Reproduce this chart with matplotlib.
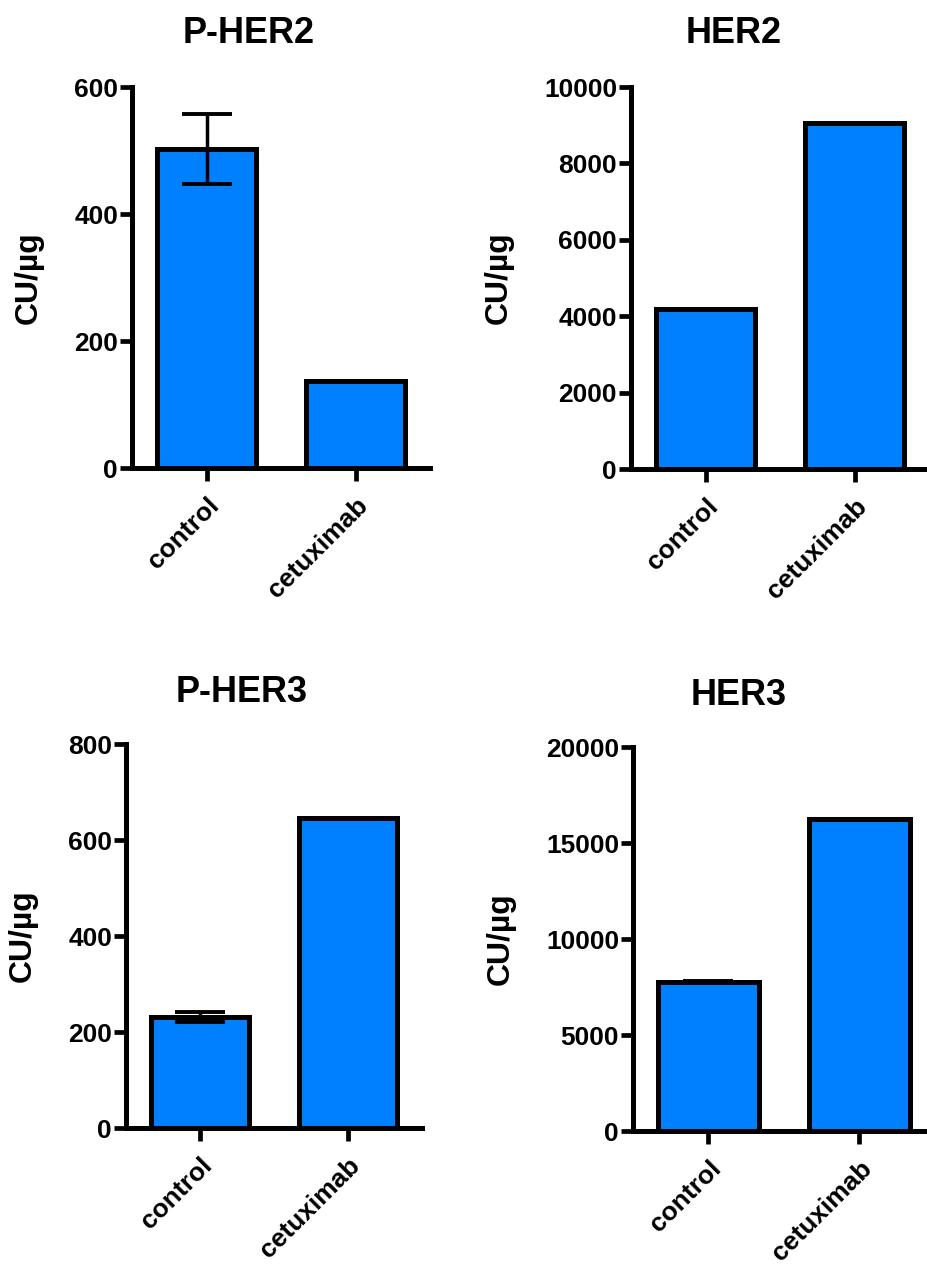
import matplotlib
matplotlib.use("Agg")
import matplotlib.pyplot as plt
import matplotlib.transforms as mtransforms

plt.rcParams['font.family'] = ['Liberation Sans', 'DejaVu Sans']
plt.rcParams['font.weight'] = 'bold'

groups = ['control', 'cetuximab']

titles = ['P-HER2', 'HER2', 'P-HER3', 'HER3']
pher2 = [502, 137]
pher2_err = [55, 0]
her2 = [4190, 9060]
her2_err = [0, 0]
pher3 = [231, 646]
pher3_err = [11, 0]
her3 = [7760, 16250]
her3_err = [60, 0]

yticks = [[0, 200, 400, 600],
          [0, 2000, 4000, 6000, 8000, 10000],
          [0, 200, 400, 600, 800],
          [0, 5000, 10000, 15000, 20000]]

values = [pher2, her2, pher3, her3]
errors = [pher2_err, her2_err, pher3_err, her3_err]

# axes rectangles in figure fractions (left, bottom, width, height)
rects = [[0.1424, 0.6303, 0.3215, 0.3009],
         [0.6807, 0.6295, 0.3215, 0.3017],
         [0.1359, 0.1090, 0.3193, 0.3033],
         [0.6828, 0.1066, 0.3258, 0.3033]]
title_x = [0.393, 0.346, 0.392, 0.350]
title_pad = [32, 32, 30, 30]

blue = '#0080ff'
fig = plt.figure(figsize=(9.27, 12.66), dpi=100)

for i in range(4):
    ax = fig.add_axes(rects[i])
    xs = list(range(len(groups)))
    ax.bar(xs, values[i], width=0.665, color=blue, edgecolor='black', linewidth=3.6, zorder=2)
    for x, v, e in zip(xs, values[i], errors[i]):
        if e > 0:
            ax.errorbar(x, v, yerr=e, fmt='none', ecolor='black', elinewidth=2.5,
                        capsize=18, capthick=2.8, zorder=3)
    ax.set_xlim(-0.5, 1.5)
    ax.set_ylim(0, yticks[i][-1])
    ax.set_yticks(yticks[i])
    ax.set_xticks(xs)
    ax.set_xticklabels(groups, rotation=45, ha='right', va='top', rotation_mode='anchor')
    shift = mtransforms.ScaledTranslation(3 / 100, 0, fig.dpi_scale_trans)
    for lab in ax.get_xticklabels():
        lab.set_transform(lab.get_transform() + shift)
    ax.spines['top'].set_visible(False)
    ax.spines['right'].set_visible(False)
    ax.spines['left'].set_linewidth(3.6)
    ax.spines['bottom'].set_linewidth(3.6)
    ax.tick_params(axis='both', width=3.4, length=9, labelsize=19)
    ax.tick_params(axis='y', pad=1)
    ax.tick_params(axis='x', pad=9)
    for lab in ax.get_xticklabels() + ax.get_yticklabels():
        lab.set_fontweight('bold')
    ax.set_title(titles[i], fontsize=26, fontweight='bold', x=title_x[i], pad=title_pad[i])
    ax.set_ylabel('CU/µg', fontsize=23, fontweight='bold', labelpad=22)

fig.savefig('out.png', dpi=100)
